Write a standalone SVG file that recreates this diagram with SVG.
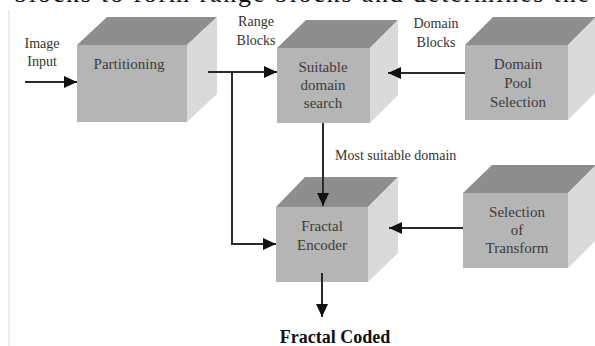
<svg xmlns="http://www.w3.org/2000/svg" width="595" height="346" viewBox="0 0 595 346">
<defs>
<style>
.front{fill:#b5b5b5}
.top{fill:#8e8e8e}
.side{fill:#dadada}
.bt{font-family:"Liberation Serif",serif;font-size:15px;fill:#3c3c3c;text-anchor:middle}
.lb{font-family:"Liberation Serif",serif;font-size:14px;fill:#333;text-anchor:middle}
.ln{stroke:#2a2a2a;stroke-width:2;fill:none}
</style>
<marker id="ah" markerUnits="userSpaceOnUse" markerWidth="14" markerHeight="12" refX="13" refY="6" orient="auto">
<path d="M0,0 L13,6 L0,12 Z" fill="#111"/>
</marker>
</defs>
<rect x="0" y="0" width="595" height="346" fill="#fff"/>
<text x="14" y="2" font-family="Liberation Serif,serif" font-size="26" fill="#111" textLength="575" lengthAdjust="spacing">blocks to form range blocks and determines the</text>
<line x1="9" y1="10" x2="9" y2="346" stroke="#ececec" stroke-width="2"/>

<g id="partitioning">
<rect class="front" x="77" y="45" width="110" height="77"/>
<polygon class="top" points="77,45 107,17 217,17 187,45"/>
<polygon class="side" points="187,45 217,17 217,94 187,122"/>
<text class="bt" x="129" y="69">Partitioning</text>
</g>
<g id="suitable">
<rect class="front" x="277" y="48" width="93" height="75"/>
<polygon class="top" points="277,48 306,20 398,20 370,48"/>
<polygon class="side" points="370,48 398,20 398,95 370,123"/>
<text class="bt" x="323" y="72">Suitable</text>
<text class="bt" x="323" y="90">domain</text>
<text class="bt" x="323" y="108">search</text>
</g>
<g id="domainpool">
<rect class="front" x="465" y="45" width="103" height="75"/>
<polygon class="top" points="465,45 493,17 596,17 568,45"/>
<polygon class="side" points="568,45 596,17 596,92 568,120"/>
<text class="bt" x="518" y="69">Domain</text>
<text class="bt" x="518" y="88">Pool</text>
<text class="bt" x="518" y="107">Selection</text>
</g>
<g id="encoder">
<rect class="front" x="276" y="207" width="92" height="75"/>
<polygon class="top" points="276,207 305,177 398,177 368,207"/>
<polygon class="side" points="368,207 398,177 398,253 368,282"/>
<text class="bt" x="322" y="231">Fractal</text>
<text class="bt" x="322" y="250">Encoder</text>
</g>
<g id="transform">
<rect class="front" x="463" y="193" width="105" height="75"/>
<polygon class="top" points="463,193 492,165 596,165 568,193"/>
<polygon class="side" points="568,193 596,165 596,240 568,268"/>
<text class="bt" x="517" y="217">Selection</text>
<text class="bt" x="517" y="235">of</text>
<text class="bt" x="517" y="253">Transform</text>
</g>

<g id="connectors">
<line class="ln" x1="25" y1="82" x2="77" y2="82" marker-end="url(#ah)"/>
<line class="ln" x1="208" y1="72" x2="277" y2="72" marker-end="url(#ah)"/>
<polyline class="ln" points="232,72 232,244 276,244" marker-end="url(#ah)"/>
<line class="ln" x1="465" y1="73" x2="388" y2="73" marker-end="url(#ah)"/>
<line class="ln" x1="323" y1="123" x2="323" y2="206" marker-end="url(#ah)"/>
<line class="ln" x1="463" y1="228" x2="389" y2="228" marker-end="url(#ah)"/>
<line class="ln" x1="322" y1="273" x2="322" y2="317" marker-end="url(#ah)"/>
</g>

<g id="labels">
<text class="lb" x="42" y="48">Image</text>
<text class="lb" x="42" y="66">Input</text>
<text class="lb" x="256" y="26">Range</text>
<text class="lb" x="256" y="45">Blocks</text>
<text class="lb" x="436" y="28">Domain</text>
<text class="lb" x="436" y="47">Blocks</text>
<text class="lb" x="335" y="160" style="text-anchor:start">Most suitable domain</text>
<text x="335" y="343" font-family="Liberation Serif,serif" font-size="18" font-weight="bold" fill="#111" text-anchor="middle">Fractal Coded</text>
</g>
</svg>
